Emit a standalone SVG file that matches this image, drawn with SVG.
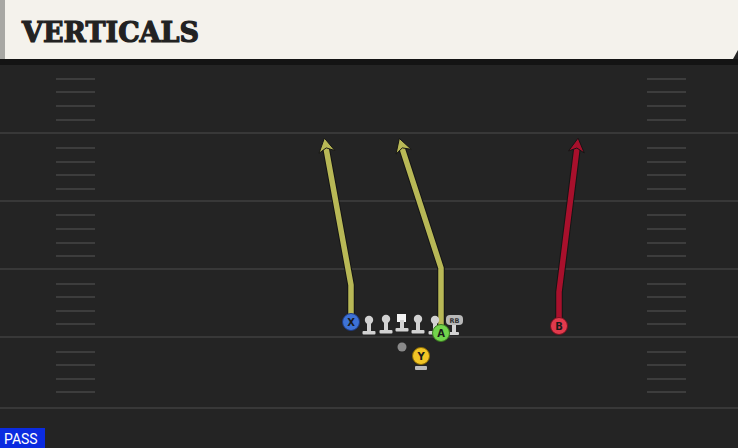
<svg xmlns="http://www.w3.org/2000/svg" width="738" height="448" viewBox="0 0 738 448">
<defs>
<style>
.fl{stroke:#383838;stroke-width:2}
.hm{stroke:#3d3d3d;stroke-width:2}
.ln{fill:#d2d2d2}
.route{fill:none;stroke-width:5.5;stroke-linejoin:round}
.rout{fill:none;stroke:#151515;stroke-width:7.5;stroke-linejoin:round}
.head{stroke:#151515;stroke-width:1;stroke-linejoin:round}
.lbl{font-family:"DejaVu Sans",sans-serif;font-weight:bold;font-size:10px;text-anchor:middle;fill:#1a1a1a}
</style>
<g id="lineman"><circle cx="0" cy="-4" r="4.2" class="ln"/><rect x="-2" y="-2" width="4" height="10" class="ln"/><rect x="-6.5" y="7" width="13" height="3.5" rx="1" class="ln"/></g>
</defs>
<rect width="738" height="448" fill="#242424"/>
<g id="field">
<line x1="0" y1="133" x2="738" y2="133" class="fl"/>
<line x1="0" y1="201" x2="738" y2="201" class="fl"/>
<line x1="0" y1="269" x2="738" y2="269" class="fl"/>
<line x1="0" y1="337" x2="738" y2="337" class="fl"/>
<line x1="0" y1="408" x2="738" y2="408" class="fl"/>
<g class="hm">
<path d="M56 79H95M56 92H95M56 106H95M56 120H95M56 148H95M56 162H95M56 175H95M56 189H95M56 215H95M56 229H95M56 243H95M56 256H95M56 284H95M56 297H95M56 311H95M56 324H95M56 352H95M56 365H95M56 379H95M56 392H95"/>
<path d="M647 79H686M647 92H686M647 106H686M647 120H686M647 148H686M647 162H686M647 175H686M647 189H686M647 215H686M647 229H686M647 243H686M647 256H686M647 284H686M647 297H686M647 311H686M647 324H686M647 352H686M647 365H686M647 379H686M647 392H686"/>
</g>
</g>
<g id="header">
<rect x="0" y="59" width="738" height="6" fill="#141414"/>
<path d="M0 0H738V50L733 59H0Z" fill="#f4f2ec"/>
<rect x="0" y="0" width="5" height="59" fill="#a8a8a4"/>
<text x="22" y="42" font-family="DejaVu Serif,serif" font-weight="bold" font-size="28" fill="#222" stroke="#222" stroke-width="1.2" textLength="177" lengthAdjust="spacingAndGlyphs">VERTICALS</text>
</g>
<g id="connectors">
<path class="rout" d="M351 314V285L326 148"/>
<path class="route" stroke="#b8b856" d="M351 314V285L326 148"/>
<polygon class="head" fill="#b8b856" points="324.4,138.1 334.8,150.5 326.2,147.9 319,153.3"/>
<path class="rout" d="M441 325V268L402 148"/>
<path class="route" stroke="#b8b856" d="M441 325V268L402 148"/>
<polygon class="head" fill="#b8b856" points="399.3,138.4 411.2,149.3 402.3,147.9 396,154.1"/>
<path class="rout" d="M559 318V292L577 148"/>
<path class="route" stroke="#a8102c" d="M559 318V292L577 148"/>
<polygon class="head" fill="#a8102c" points="578.1,138.1 584.3,153 576.9,148 568.5,151"/>
</g>
<g id="lt"><use href="#lineman" x="369" y="324"/></g>
<g id="lg"><use href="#lineman" x="386" y="323"/></g>
<g id="c"><rect x="397" y="314" width="9" height="8" fill="#f4f4f4"/><rect x="400" y="320" width="4" height="9" class="ln"/><rect x="395.5" y="328" width="13" height="3.5" rx="1" class="ln"/></g>
<g id="rg"><use href="#lineman" x="418" y="323"/></g>
<g id="rt"><use href="#lineman" x="435" y="324"/></g>
<g id="rb"><rect x="446" y="315" width="17" height="10" rx="4" fill="#b8b8b8"/><text x="454.5" y="323" font-family="DejaVu Sans,sans-serif" font-weight="bold" font-size="6.5" text-anchor="middle" fill="#333">RB</text><rect x="452" y="325" width="4" height="8" class="ln"/><rect x="449" y="332" width="10" height="3" rx="1" class="ln"/></g>
<g id="qb"><circle cx="402" cy="347" r="4.5" fill="#8a8a8a"/></g>
<g id="x"><circle cx="351" cy="322" r="8.5" fill="#3d72d6" stroke="#1e3a80" stroke-width="1"/><text x="351" y="326" class="lbl">X</text></g>
<g id="a"><circle cx="441" cy="333" r="8.5" fill="#72d44c" stroke="#3a7a20" stroke-width="1"/><text x="441" y="337" class="lbl">A</text></g>
<g id="y"><circle cx="421" cy="356" r="8.5" fill="#f2c526" stroke="#8a6a00" stroke-width="1"/><text x="421" y="360" class="lbl">Y</text><rect x="415" y="366" width="12" height="4" rx="1" fill="#bcbcbc"/></g>
<g id="b"><circle cx="559" cy="326" r="8.5" fill="#e23a4c" stroke="#7a1020" stroke-width="1"/><text x="559" y="330" class="lbl">B</text></g>
<g id="pass"><rect x="0" y="428" width="45" height="20" fill="#0b2be0"/><text x="4" y="444" font-family="Roboto,'Liberation Sans',sans-serif" font-size="14" fill="#ffffff">PASS</text></g>
</svg>
